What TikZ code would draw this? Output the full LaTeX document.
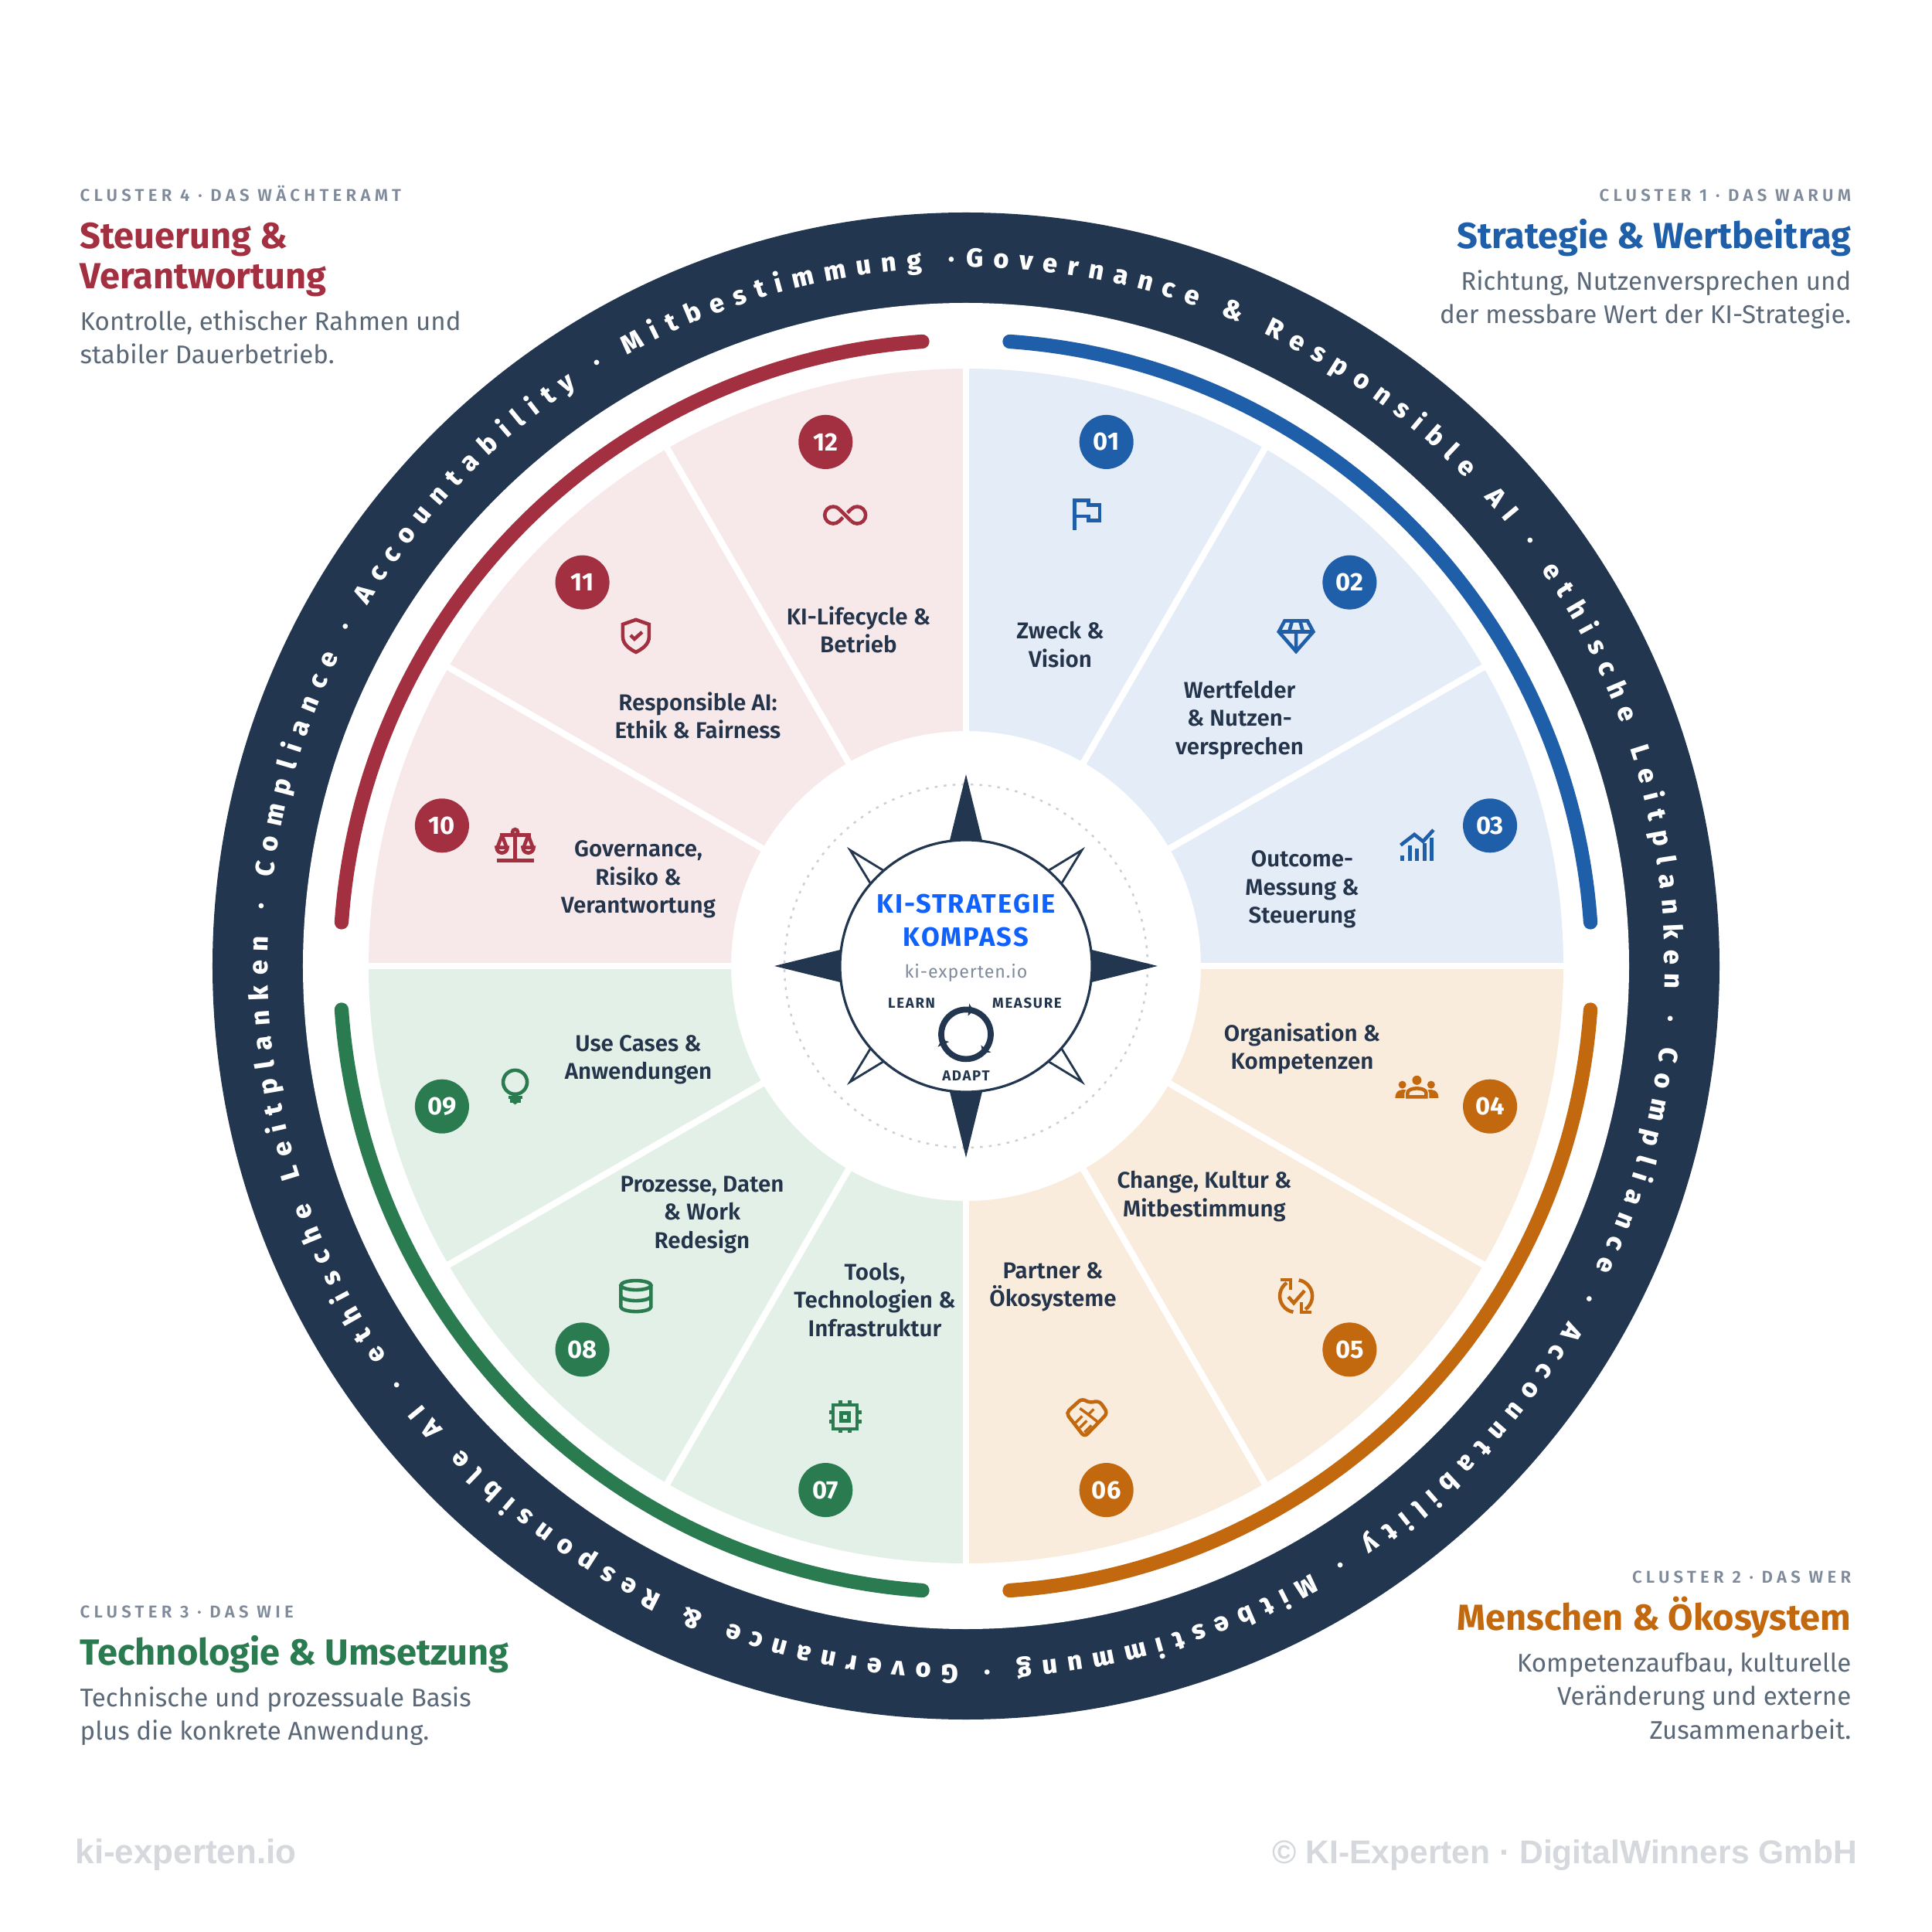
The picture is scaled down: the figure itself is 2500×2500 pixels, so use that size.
\documentclass[tikz,border=0pt]{standalone}
\usepackage{fontspec}
\setmainfont{Fira Sans}
\newfontfamily\halbfett{Fira Sans SemiBold}
\newfontfamily\extrafett{Fira Sans ExtraBold}
\usetikzlibrary{decorations.text}

\definecolor{navy}{HTML}{22364F}
\definecolor{tinte}{HTML}{24344A}
\definecolor{cblau}{HTML}{1F5EA8}
\definecolor{corange}{HTML}{C2680E}
\definecolor{cgruen}{HTML}{2A7B50}
\definecolor{crot}{HTML}{A33040}
\definecolor{fblau}{HTML}{E4ECF7}
\definecolor{forange}{HTML}{FAECDD}
\definecolor{fgruen}{HTML}{E3F0E8}
\definecolor{frot}{HTML}{F7E9EA}
\definecolor{kblau}{HTML}{0F62FE}
\definecolor{grau}{HTML}{7F8B9B}
\definecolor{schiefer}{HTML}{5A6878}
\definecolor{fuss}{HTML}{D5D8DC}
\definecolor{punkt}{HTML}{C9CFD6}

\newcommand\ringschrift{\extrafett\fontsize{9.7}{10}\selectfont}

\tikzset{
  iconflag/.pic={
    \draw (-15.6,-19.4) -- (-15.6,18.8) -- (2.2,18.8) -- (2.2,12.9) -- (16.5,12.9)
      -- (16.5,-7.1) -- (2.2,-7.1) -- (2.2,-1.3) -- (-15.6,-1.3);},
  icondiamant/.pic={
    \draw (-14.7,19.6) -- (14.7,19.6) -- (22.3,5.4) -- (0,-20) -- (-22.3,5.4) -- cycle;
    \draw (-22.3,5.4) -- (22.3,5.4) (0,5.4) -- (0,-20)
      (-5,19.6) -- (-9,5.4) (5,19.6) -- (9,5.4);},
  iconchart/.pic={
    \foreach \x/\y in {-18.8/-13,-9/0,0/-4,10.3/2.7,19.2/9.4}
      \draw[line width=1.5pt] (\x,-20.5) -- (\x,\y);
    \draw (-21,0) -- (-3.2,13.8) -- (8,4.9) -- (21.5,19.7);},
  iconleute/.pic={
    \fill (0,8.5) circle[radius=6];
    \fill (-18.8,2.7) circle[radius=5] (18.4,2.7) circle[radius=5];
    \draw (-12,-13) -- (12,-13) -- (12,-8) .. controls (12,0) and (-12,0) .. (-12,-8) -- cycle;
    \fill (-28,-14.5) -- (-16,-14.5) -- (-16,-8) -- (-14,-4) .. controls (-20,-3) and (-28,-4) .. (-28,-14.5);
    \fill (28,-14.5) -- (16,-14.5) -- (16,-8) -- (14,-4) .. controls (20,-3) and (28,-4) .. (28,-14.5);},
  iconzyklus/.pic={
    \foreach \r in {0,180} {
      \draw[rotate=\r] (260:21) arc[start angle=260,end angle=125,radius=21];
      \draw[rotate=\r] (-20,21) -- (-7,21) -- (-7,8);}
    \draw (-10,-1) -- (-3,-9) -- (11,7);},
  iconhand/.pic={
    \draw[rounded corners=1.6pt] (-27,5) -- (-6,24) -- (3,18) -- (16,21) -- (27,5) -- (-3,-26) -- cycle;
    \draw[line width=1pt] (-9,11) -- (2,3) -- (9,10) (2,3) -- (16,-8)
      (-15,-8) -- (-6,1) (-9,-14) -- (0,-5) (-3,-20) -- (6,-11);},
  iconchip/.pic={
    \draw (-15.5,-15.5) rectangle (15.5,15.5);
    \draw (-5,-5) rectangle (5,5);
    \foreach \p in {-6,6} {
      \draw (\p,15.5) -- (\p,21) (\p,-15.5) -- (\p,-21);
      \draw (15.5,\p) -- (21,\p) (-15.5,\p) -- (-21,\p);}},
  icondaten/.pic={
    \draw (0,14) ellipse[x radius=19.5,y radius=6];
    \draw (-19.5,14) -- (-19.5,-14) arc[start angle=180,end angle=360,x radius=19.5,y radius=6] -- (19.5,14);
    \draw (-19.5,0) arc[start angle=180,end angle=360,x radius=19.5,y radius=6];},
  iconbirne/.pic={
    \draw (0,6) circle[radius=15.5];
    \draw (-9,-13.5) -- (9,-13.5) (-7,-18) -- (7,-18);
    \fill (-4,-20) -- (4,-20) -- (0,-23) -- cycle;},
  iconwaage/.pic={
    \draw (-24,-20) -- (24,-20) (0,-20) -- (0,15) (-20,13) -- (20,13);
    \draw (0,17) circle[radius=3.5];
    \draw (-17,13) -- (-23,-3) (-17,13) -- (-11,-3) (17,13) -- (11,-3) (17,13) -- (23,-3);
    \draw (-24,-3) arc[start angle=180,end angle=360,radius=7] -- cycle;
    \draw (10,-3) arc[start angle=180,end angle=360,radius=7] -- cycle;},
  iconschild/.pic={
    \draw (0,21) -- (17,15) -- (17,-1) .. controls (17,-11) and (8,-17) .. (0,-21)
      .. controls (-8,-17) and (-17,-11) .. (-17,-1) -- (-17,15) -- cycle;
    \draw (-7,1) -- (-2,-4) -- (8,5);},
  iconendlos/.pic={
    \draw (-7.7,7.8) arc[start angle=45,end angle=315,radius=11] -- (-3,-3);
    \draw (7.7,7.8) arc[start angle=135,end angle=-135,radius=11];
    \draw (-7.7,7.8) -- (7.7,-7.8) (3,3) -- (7.7,7.8);}
}

\begin{document}
\begin{tikzpicture}[x=0.01cm,y=0.01cm,
    symbol/.style={line width=1.3pt},
    zahl/.style={circle,fill=#1,text=white,inner sep=0pt,minimum size=0.7cm,
      font=\bfseries\fontsize{9.3}{10}\selectfont},
    feld/.style={align=center,text=tinte,inner sep=0pt,
      font=\halbfett\fontsize{8.4}{10.33}\selectfont},
    clabel/.style={text=grau,inner sep=0pt,
      font=\halbfett\fontsize{6.3}{7}\selectfont\addfontfeature{LetterSpace=24}},
    ctitel/.style={inner sep=0pt,font=\bfseries\fontsize{13.35}{15}\selectfont},
    ctext/.style={text=schiefer,inner sep=0pt,font=\fontsize{9.4}{12}\selectfont},
    kmp/.style={text=navy,inner sep=0pt,
      font=\bfseries\fontsize{5.3}{7}\selectfont\addfontfeature{LetterSpace=9}},
    fusstext/.style={text=fuss,inner sep=0pt,font=\fontspec{Liberation Sans}\bfseries\fontsize{#1}{14}\selectfont}]

  \path[use as bounding box,fill=white] (-1250,-1250) rectangle (1250,1250);

  %% ================================ Ring ===================================
  \fill[navy] (0,0) circle[radius=975];
  \fill[white] (0,0) circle[radius=858];
  \path[decorate,decoration={text along path,text align={fit to path},text color=white,
      text={|\ringschrift|Governance {\&} Responsible AI · ethische Leitplanken · Compliance · Accountability · Mitbestimmung · Governance {\&} Responsible AI · ethische Leitplanken · Compliance · Accountability · Mitbestimmung ·}}]
    (90:904) arc[start angle=90,end angle=-269,radius=904];

  %% ============================== Quadranten ===============================
  \foreach \w/\f in {0/fblau,270/forange,180/fgruen,90/frot}
    \fill[\f] (\w:304) -- (\w:773) arc[start angle=\w,end angle=\w+90,radius=773]
      -- ({\w+90}:304) arc[start angle=\w+90,end angle=\w,radius=304] -- cycle;
  \foreach \ang in {0,30,...,330}
    \draw[white,line width=2.4pt] (\ang:295) -- (\ang:785);
  \foreach \s/\f in {86/cblau,-4/corange,-94/cgruen,176/crot}
    \draw[\f,line width=5.2pt,line cap=round] (\s:810) arc[start angle=\s,end angle=\s-82,radius=810];

  %% ============================ Zahlen, Symbole ============================
  \foreach \n/\ang/\f/\ic in {01/75/cblau/iconflag,02/45/cblau/icondiamant,03/15/cblau/iconchart,
      04/-15/corange/iconleute,05/-45/corange/iconzyklus,06/-75/corange/iconhand,
      07/-105/cgruen/iconchip,08/-135/cgruen/icondaten,09/-165/cgruen/iconbirne,
      10/165/crot/iconwaage,11/135/crot/iconschild,12/105/crot/iconendlos} {
    \node[zahl=\f] (num\n) at (\ang:702) {\n};
    \pic[color=\f,symbol] at (\ang:604) {\ic};
  }

  %% ============================== Beschriftung =============================
  \foreach \n/\x/\y/\txt in {01/122/416/{Zweck \&\\Vision},
      02/354/318/{Wertfelder\\\& Nutzen-\\versprechen},
      03/435/99/{Outcome-\\Messung \&\\Steuerung},
      04/435/-107/{Organisation \&\\Kompetenzen},
      05/308.5/-298/{Change, Kultur \&\\Mitbestimmung},
      06/112.5/-415/{Partner \&\\Ökosysteme},
      07/-118/-432/{Tools,\\Technologien \&\\Infrastruktur},
      08/-341.5/-322/{Prozesse, Daten\\\& Work\\Redesign},
      09/-424/-121/{Use Cases \&\\Anwendungen},
      10/-424/112/{Governance,\\Risiko \&\\Verantwortung},
      11/-347/324/{Responsible AI:\\Ethik \& Fairness},
      12/-139/435/{KI-Lifecycle \&\\Betrieb}}
    \node[feld] (lab\n) at (\x,\y) {\txt};

  %% ================================ Kompass ================================
  \draw[punkt,line width=0.7pt,dash pattern=on 1pt off 2.3pt] (0,0) circle[radius=235];
  \foreach \ang in {0,90,180,270}
    \fill[navy,rotate=\ang] (161,21.4) -- (248,0) -- (161,-21.4) -- cycle;
  \foreach \ang in {45,135,225,315}
    \filldraw[fill=white,draw=navy,line width=0.8pt,rotate=\ang] (162.5,12) -- (212,0) -- (162.5,-12) -- cycle;
  \draw[navy,fill=white,line width=0.9pt] (0,0) circle[radius=163];
  \node[align=center,text=kblau,inner sep=0pt,font=\bfseries\fontsize{9.8}{12.2}\selectfont\addfontfeature{LetterSpace=6}] (titel) at (0,58.5) {KI-STRATEGIE\\KOMPASS};
  \node[text=grau,inner sep=0pt,font=\fontsize{6.6}{8}\selectfont\addfontfeature{LetterSpace=4}] (web) at (0,-9) {ki-experten.io};
  \node[kmp] (learn) at (-70.4,-48) {LEARN};
  \node[kmp] (measure) at (79,-48) {MEASURE};
  \node[kmp] (adapt) at (0,-142) {ADAPT};
  \draw[navy,line width=2.2pt] (0,-88.4) circle[radius=32];
  \begin{scope}[shift={(0,-88.4)}]
    \foreach \ang in {82,-38,202}
      \fill[navy] ({\ang+2}:24) -- ({\ang-10}:32) -- ({\ang+2}:40) -- cycle;
  \end{scope}

  %% ================================ Cluster ================================
  \node[clabel,anchor=base west] (c4a) at (-1147,989.5) {CLUSTER 4 · DAS WÄCHTERAMT};
  \node[ctitel,text=crot,anchor=base west] (c4b) at (-1147,928.5) {Steuerung \&};
  \node[ctitel,text=crot,anchor=base west] (c4c) at (-1147,876.5) {Verantwortung};
  \node[ctext,anchor=base west] (c4d) at (-1147,822.5) {Kontrolle, ethischer Rahmen und};
  \node[ctext,anchor=base west] (c4e) at (-1147,779.5) {stabiler Dauerbetrieb.};

  \node[clabel,anchor=base east] (c1a) at (1146,989.5) {CLUSTER 1 · DAS WARUM};
  \node[ctitel,text=cblau,anchor=base east] (c1b) at (1146,928.5) {Strategie \& Wertbeitrag};
  \node[ctext,anchor=base east] (c1c) at (1146,874.5) {Richtung, Nutzenversprechen und};
  \node[ctext,anchor=base east] (c1d) at (1146,831.5) {der messbare Wert der KI-Strategie.};

  \node[clabel,anchor=base west] (c3a) at (-1147,-843.5) {CLUSTER 3 · DAS WIE};
  \node[ctitel,text=cgruen,anchor=base west] (c3b) at (-1147,-904.5) {Technologie \& Umsetzung};
  \node[ctext,anchor=base west] (c3c) at (-1147,-958.5) {Technische und prozessuale Basis};
  \node[ctext,anchor=base west] (c3d) at (-1147,-1001.5) {plus die konkrete Anwendung.};

  \node[clabel,anchor=base east] (c2a) at (1146,-798.5) {CLUSTER 2 · DAS WER};
  \node[ctitel,text=corange,anchor=base east] (c2b) at (1146,-859.5) {Menschen \& Ökosystem};
  \node[ctext,anchor=base east] (c2c) at (1146,-913.5) {Kompetenzaufbau, kulturelle};
  \node[ctext,anchor=base east] (c2d) at (1146,-956.5) {Veränderung und externe};
  \node[ctext,anchor=base east] (c2e) at (1146,-1000.5) {Zusammenarbeit.};

  %% ================================= Fuss ==================================
  \node[fusstext=12.5,anchor=base west] (fussl) at (-1153,-1161) {ki-experten.io};
  \node[fusstext=12.1,anchor=base east] (fussr) at (1154,-1161) {© KI-Experten · DigitalWinners GmbH};

\end{tikzpicture}
\end{document}
